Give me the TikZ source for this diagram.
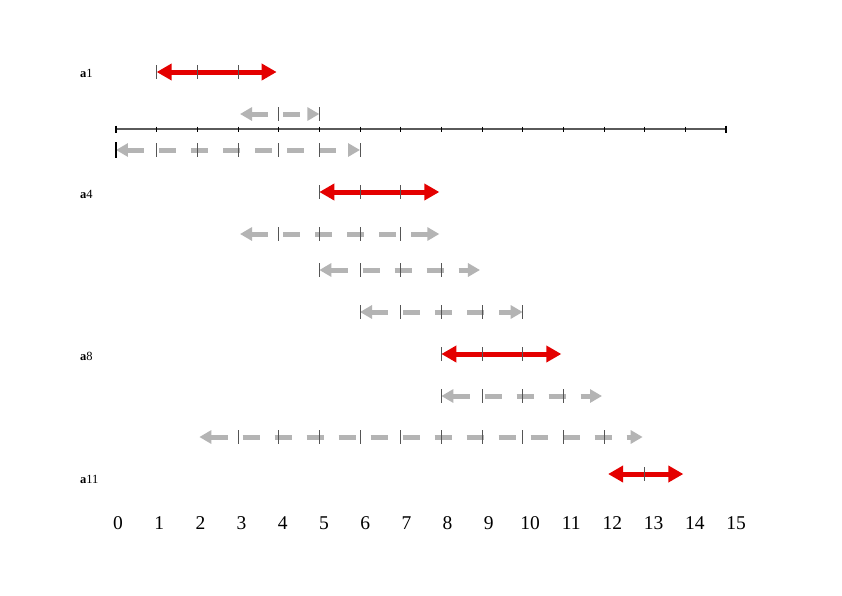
\documentclass[tikz,border=0pt]{standalone}
\usepackage{fontspec}
\setmainfont{Liberation Serif}
\usetikzlibrary{arrows.meta}
\definecolor{redarr}{RGB}{228,0,0}
\definecolor{grayarr}{RGB}{180,180,180}
\definecolor{tickc}{RGB}{85,85,85}
\definecolor{axisc}{RGB}{90,90,90}
\tikzset{
  redarrow/.style={draw=redarr, line width=5pt, {Triangle[length=15pt,width=16pt]}-{Triangle[length=15pt,width=16pt]}},
  grayarrow/.style={draw=grayarr, line width=5pt, dash pattern=on 17pt off 15pt, {Triangle[length=12pt,width=13pt]}-{Triangle[length=12pt,width=13pt]}},
  tickmark/.style={draw=tickc, line width=0.8pt},
  axisline/.style={draw=axisc, line width=1.4pt},
  rowlabel/.style={anchor=west, inner sep=0pt, font=\fontsize{12.5}{12.5}\selectfont},
  numlabel/.style={inner sep=0pt, font=\fontsize{19.5}{20}\selectfont}
}
\newcommand\tickrow[2]{\foreach \i in {#1} \draw[tickmark] (\i,#2-7) -- (\i,#2+7);}
\begin{document}
\begin{tikzpicture}[x=40.67pt,y=-1pt]
\useasboundingbox[fill=white] (-2.852,0) rectangle (17.851,595);
% axis
\coordinate (ax0) at (0,129);
\coordinate (ax15) at (15,129);
\draw[axisline] (ax0) -- (ax15);
\foreach \i in {1,...,14} \draw[draw=black, line width=0.8pt] (\i,126.5) -- (\i,131.5);
\draw[black, line width=2.5pt] (0,125.5) -- (0,132.5);
\draw[black, line width=2.5pt] (15,125.5) -- (15,132.5);
% row coordinates
\coordinate (r1a) at (1,72);     \coordinate (r1b) at (3.95,72);
\coordinate (r2a) at (3.05,114); \coordinate (r2b) at (5,114);
\coordinate (r3a) at (0,150);    \coordinate (r3b) at (6,150);
\coordinate (r4a) at (5,192);    \coordinate (r4b) at (7.95,192);
\coordinate (r5a) at (3.05,234); \coordinate (r5b) at (7.95,234);
\coordinate (r6a) at (5,270);    \coordinate (r6b) at (8.95,270);
\coordinate (r7a) at (6,312);    \coordinate (r7b) at (10,312);
\coordinate (r8a) at (8,354);    \coordinate (r8b) at (10.95,354);
\coordinate (r9a) at (8,396);    \coordinate (r9b) at (11.95,396);
\coordinate (r10a) at (2.05,437); \coordinate (r10b) at (12.95,437);
\coordinate (r11a) at (12.1,474); \coordinate (r11b) at (13.95,474);
% arrows
\draw[redarrow] (r1a) -- (r1b);
\draw[grayarrow] (r2a) -- (r2b);
\draw[grayarrow] (r3a) -- (r3b);
\draw[redarrow] (r4a) -- (r4b);
\draw[grayarrow] (r5a) -- (r5b);
\draw[grayarrow] (r6a) -- (r6b);
\draw[grayarrow] (r7a) -- (r7b);
\draw[redarrow] (r8a) -- (r8b);
\draw[grayarrow] (r9a) -- (r9b);
\draw[grayarrow] (r10a) -- (r10b);
\draw[redarrow] (r11a) -- (r11b);
% ticks
\tickrow{1,2,3}{72}
\tickrow{4,5}{114}
\tickrow{1,2,3,4,5,6}{150}
\draw[black, line width=2.5pt] (0,142) -- (0,158);
\tickrow{5,6,7}{192}
\tickrow{4,5,6,7}{234}
\tickrow{5,6,7,8}{270}
\tickrow{6,7,8,9,10}{312}
\tickrow{8,9,10}{354}
\tickrow{8,9,10,11}{396}
\tickrow{3,4,5,6,7,8,9,10,11,12}{437}
\tickrow{13}{474}
% row labels
\node[rowlabel] (la1) at (-0.885,73) {\textbf{a}1};
\node[rowlabel] (la4) at (-0.885,194) {\textbf{a}4};
\node[rowlabel] (la8) at (-0.885,356) {\textbf{a}8};
\node[rowlabel] (la11) at (-0.885,479) {\textbf{a}11};
% number scale
\foreach \i in {0,...,15} \node[numlabel] (n\i) at ({0.05+\i*1.013},523) {\i};
\end{tikzpicture}
\end{document}
